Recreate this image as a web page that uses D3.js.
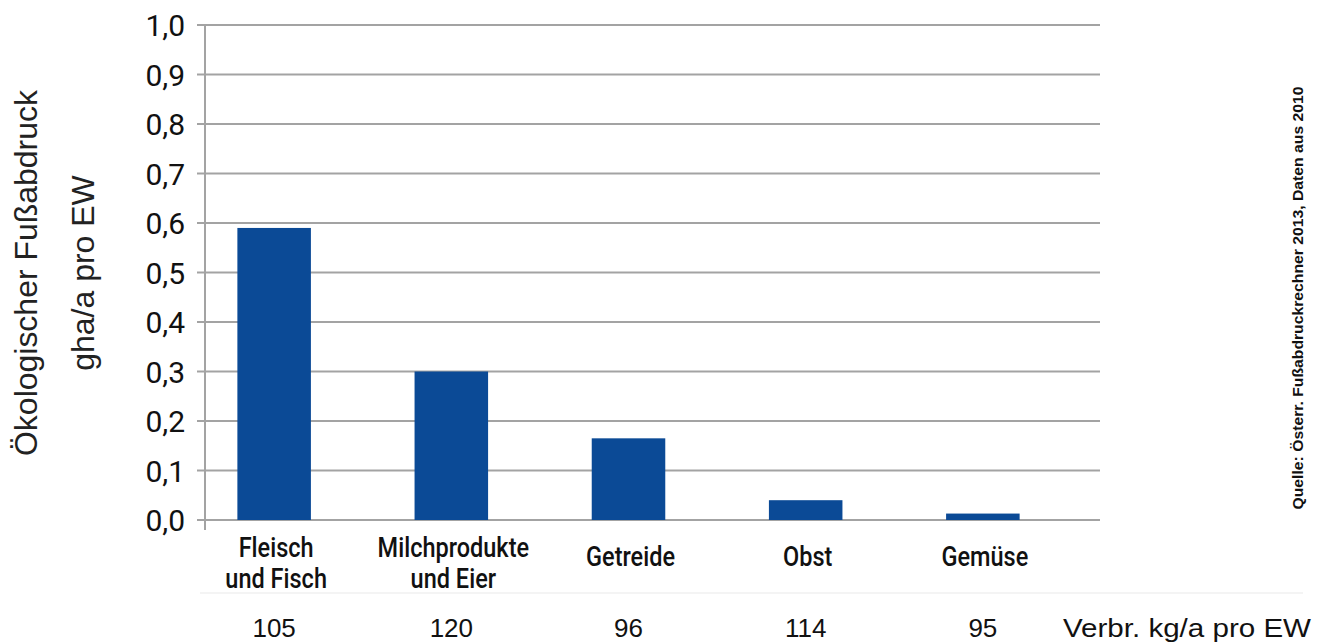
<!DOCTYPE html>
<html><head><meta charset="utf-8">
<script src="https://cdn.jsdelivr.net/npm/d3@7"></script>
<style>body{margin:0;background:#fff}svg{display:block}</style>
</head><body>
<svg id="c" width="1330" height="644"></svg>
<script>
const categories = [["Fleisch","und Fisch"],["Milchprodukte","und Eier"],["Getreide"],["Obst"],["Gemüse"]];
const footprint = [0.59, 0.30, 0.165, 0.04, 0.013];
const consumption = [105, 120, 96, 114, 95];
const yTicks = [0,0.1,0.2,0.3,0.4,0.5,0.6,0.7,0.8,0.9,1.0];
const yTitle = ["Ökologischer Fußabdruck","gha/a pro EW"];
const consumptionLabel = "Verbr. kg/a pro EW";
const source = "Quelle: Österr. Fußabdruckrechner 2013, Daten aus 2010";

const svg = d3.select("#c");
const y = d3.scaleLinear().domain([0,1]).range([520,25]);
const x = d3.scaleBand().domain(categories.map((d,i)=>i)).range([186,1071]).paddingInner(0.585).paddingOuter(0.29);
const grid = "#a3a3a3";

// gridlines
svg.append("g").selectAll("line").data(yTicks).join("line")
  .attr("x1",197).attr("x2",1100)
  .attr("y1",d=>y(d)).attr("y2",d=>y(d))
  .attr("stroke",grid).attr("stroke-width",2);
// axis line
svg.append("line").attr("x1",205).attr("x2",205).attr("y1",y(1)).attr("y2",530)
  .attr("stroke",grid).attr("stroke-width",2);

// tick labels
svg.append("g").selectAll("text").data(yTicks).join("text")
  .attr("x",185).attr("y",d=>y(d)+11)
  .attr("text-anchor","end")
  .attr("font-family","Roboto, sans-serif").attr("font-size",30).attr("fill","#111")
  .text(d=>d3.format(".1f")(d).replace(".",","));

// bars
svg.append("g").selectAll("rect").data(footprint).join("rect")
  .attr("x",(d,i)=>x(i)).attr("width",x.bandwidth())
  .attr("y",d=>y(d)).attr("height",d=>y(0)-y(d))
  .attr("fill","#0b4a96");

// category labels
const cl = svg.append("g").selectAll("text").data(categories).join("text")
  .attr("transform",(d,i)=>`translate(${x(i)+x.bandwidth()/2+2},0) scale(0.84,1)`)
  .attr("text-anchor","middle")
  .attr("font-family","Roboto, sans-serif").attr("font-weight",500)
  .attr("font-size",28).attr("fill","#111");
cl.each(function(d){
  const t = d3.select(this);
  d.forEach((line,j)=>{
    t.append("tspan").attr("x",0).attr("y",j===0 ? (d.length>1?557:566) : 588).text(line);
  });
});

// faint separator
svg.append("line").attr("x1",200).attr("x2",1303).attr("y1",593).attr("y2",593)
  .attr("stroke","#f0f0f0").attr("stroke-width",1.5);

// consumption row
svg.append("g").selectAll("text").data(consumption).join("text")
  .attr("x",(d,i)=>x(i)+x.bandwidth()/2).attr("y",637)
  .attr("text-anchor","middle")
  .attr("font-family","Liberation Sans, Arial, sans-serif").attr("font-size",26).attr("fill","#111")
  .text(d=>d);
svg.append("text").attr("x",1063).attr("y",637)
  .attr("font-family","Liberation Sans, Arial, sans-serif").attr("font-size",26).attr("fill","#111")
  .attr("textLength",248).attr("lengthAdjust","spacingAndGlyphs")
  .text(consumptionLabel);

// y title
const yt = svg.append("text").attr("transform","translate(0,273) rotate(-90)")
  .attr("text-anchor","middle")
  .attr("font-family","Liberation Sans, Arial, sans-serif").attr("font-size",32).attr("fill","#222");
yTitle.forEach((line,j)=>{
  const ts = yt.append("tspan").attr("x",0).attr("y", j===0 ? 37 : 94).text(line);
  if (j===0) ts.attr("textLength",366).attr("lengthAdjust","spacingAndGlyphs");
});

// source
svg.append("text").attr("transform","translate(1303,298) rotate(-90)")
  .attr("text-anchor","middle")
  .attr("font-family","Liberation Sans, Arial, sans-serif").attr("font-weight","bold")
  .attr("font-size",15).attr("fill","#111")
  .attr("textLength",423).attr("lengthAdjust","spacingAndGlyphs")
  .text(source);
</script>
</body></html>
